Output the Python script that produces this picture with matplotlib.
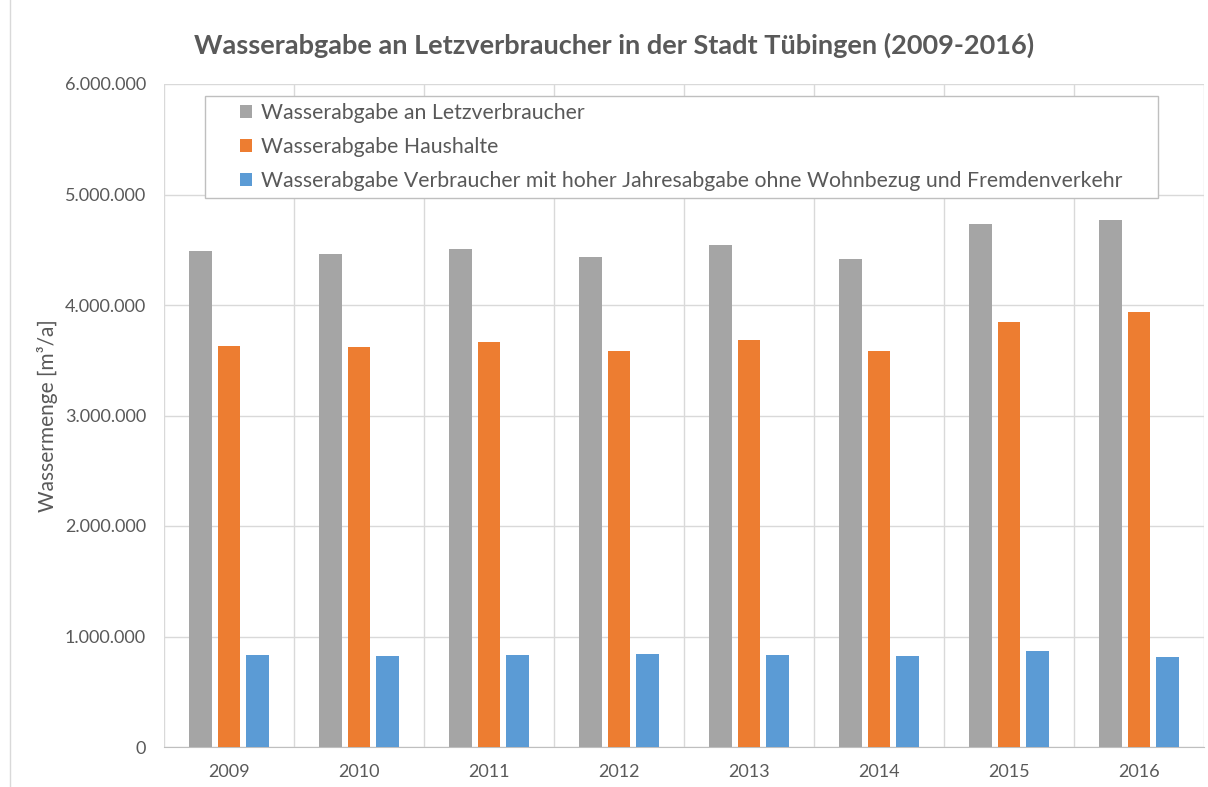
import matplotlib.pyplot as plt
import matplotlib.ticker as ticker
from matplotlib.lines import Line2D
from matplotlib.patches import Rectangle
import numpy as np

# Werte (m³/a)
years = ['2009', '2010', '2011', '2012', '2013', '2014', '2015', '2016']
letztverbraucher = [4486000, 4465000, 4507000, 4438000, 4540000, 4416000, 4730000, 4767000]
haushalte = [3633000, 3620000, 3665000, 3587000, 3687000, 3587000, 3843000, 3934000]
grossverbraucher = [836000, 824000, 836000, 845000, 836000, 824000, 869000, 812000]

series_labels = [
    'Wasserabgabe an Letzverbraucher',
    'Wasserabgabe Haushalte',
    'Wasserabgabe Verbraucher mit hoher Jahresabgabe ohne Wohnbezug und Fremdenverkehr',
]
colors = ['#a5a5a5', '#ed7d31', '#5b9bd5']
y_ticks = [0, 1000000, 2000000, 3000000, 4000000, 5000000, 6000000]

TEXT = '#595959'
GRID = '#d9d9d9'
W, H = 1208, 787

plt.rcParams['font.family'] = ['Lato', 'DejaVu Sans']

fig = plt.figure(figsize=(W / 100, H / 100), dpi=100)
ax = fig.add_axes([164 / W, 1 - 747 / H, 1040 / W, 663 / H])

x = np.arange(len(years))
step = 0.219
width = 0.173
for i, (vals, lab, col) in enumerate(zip([letztverbraucher, haushalte, grossverbraucher], series_labels, colors)):
    ax.bar(x + (i - 1) * step, vals, width=width, color=col, label=lab, zorder=3)

ax.set_xlim(-0.5, len(years) - 0.5)
ax.set_ylim(0, 6000000)
ax.set_yticks(y_ticks)
ax.yaxis.set_major_formatter(ticker.FuncFormatter(lambda v, p: f'{int(v):,}'.replace(',', '.')))
ax.set_xticks(x)
ax.set_xticklabels(years)

# Kategorie-Trennlinien und horizontale Gitterlinien
ax.set_xticks(np.arange(-0.5, len(years), 1), minor=True)
ax.grid(axis='y', which='major', color=GRID, linewidth=1, zorder=0)
ax.grid(axis='x', which='minor', color=GRID, linewidth=1, zorder=0)
ax.grid(axis='x', which='major', visible=False)

for side in ['top', 'right', 'left']:
    ax.spines[side].set_visible(False)
ax.spines['bottom'].set_color('#bfbfbf')
ax.tick_params(axis='both', which='both', length=0, colors=TEXT, labelsize=13)
ax.tick_params(axis='y', pad=13)
ax.tick_params(axis='x', pad=12)

ax.set_ylabel('Wassermenge [m³/a]', color=TEXT, fontsize=15, labelpad=5)

fig.suptitle('Wasserabgabe an Letzverbraucher in der Stadt Tübingen (2009-2016)',
             x=614 / W, y=1 - 45 / H, va='center', fontsize=19.5, fontweight='bold', color=TEXT)

# Legendenrahmen (als Patch in der Achse, damit die Legende darüber liegt)
ax.add_patch(Rectangle((205 / W, 1 - 198 / H), (1158 - 205) / W, 102 / H,
                       transform=fig.transFigure, facecolor='white', edgecolor='#bfbfbf',
                       linewidth=1, zorder=4, clip_on=False))
leg = ax.legend(loc='center left', bbox_to_anchor=(240 / W, 1 - 147 / H), bbox_transform=fig.transFigure,
                fontsize=15.3, labelcolor=TEXT, frameon=False,
                handlelength=0.58, handleheight=0.58, handletextpad=0.4, labelspacing=0.67,
                borderpad=0, borderaxespad=0)
leg.set_zorder(5)

# äußerer Rahmen links
fig.add_artist(Line2D([10 / W, 10 / W], [0, 1], color=GRID, linewidth=1))

fig.savefig('out.png', dpi=100)
